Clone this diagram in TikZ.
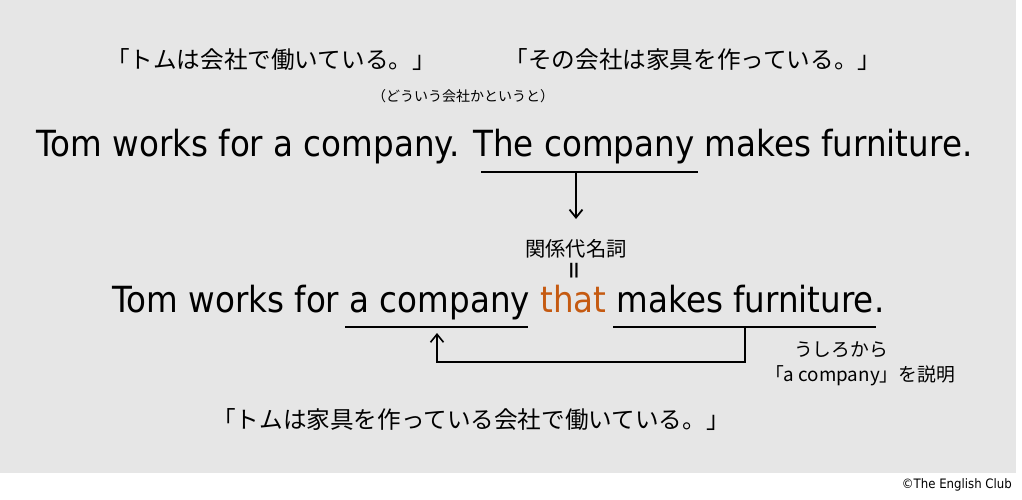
\documentclass[tikz,border=0pt]{standalone}
\usepackage{fontspec}
\setmainfont{DejaVu Sans}
\newfontfamily\en[FakeStretch=0.904]{DejaVu Sans}
\newfontfamily\jp{Noto Sans CJK JP}
\usetikzlibrary{arrows.meta}
\definecolor{bg}{RGB}{230,230,230}
\definecolor{thatc}{RGB}{197,90,17}
\begin{document}
\begin{tikzpicture}[x=1pt,y=-1pt,
  every node/.style={inner sep=0pt, text=black},
  jpbig/.style={font=\jp\fontsize{23.6}{28}\selectfont},
  jpmid/.style={font=\jp\fontsize{20.3}{24}\selectfont},
  jpexp/.style={font=\jp\fontsize{18.8}{22}\selectfont},
  jpsmall/.style={font=\jp\fontsize{14}{16}\selectfont},
  ensent/.style={font=\en\fontsize{36}{40}\selectfont, anchor=base west},
  uline/.style={draw=black, line width=1.3pt},
  arr/.style={draw=black, line width=1.8pt, -{Straight Barb[length=8pt,width=13pt]}}
]
\useasboundingbox (0,0) rectangle (1022,500);
\fill[bg] (0,0) rectangle (1016,473);

\node[jpbig] (jp1) at (271,60) {「トムは会社で働いている。」};
\node[jpbig] (jp2) at (693,60) {「その会社は家具を作っている。」};
\node[jpsmall] (note) at (463,96) {（どういう会社かというと）};

\node[ensent] (s1) at (36,156) {Tom works for a company. The company makes furniture.};

\coordinate (u1a) at (481,172);
\coordinate (u1b) at (698,172);
\coordinate (u1m) at (576,172);
\coordinate (a1e) at (576,219);
\draw[uline] (u1a) -- (u1b);
\draw[arr] (u1m) -- (a1e);

\node[jpmid] (rel) at (576,249) {関係代名詞};
\node[font=\en\fontsize{26}{28}\selectfont, rotate=90] (eq) at (577,271) {=};

\node[ensent] (s2) at (112,312) {Tom works for a company \textcolor{thatc}{that} makes furniture.};

\coordinate (u2a) at (345,327);
\coordinate (u2b) at (528,327);
\coordinate (u3a) at (613,327);
\coordinate (u3b) at (876,327);
\draw[uline] (u2a) -- (u2b);
\draw[uline] (u3a) -- (u3b);

\coordinate (c1) at (745,327);
\coordinate (k1) at (745,362);
\coordinate (c3) at (437,333);
\draw[arr, line width=1.6pt] (c1) -- (k1) -| (c3);

\node[jpexp] (exp1) at (841,350) {うしろから};
\node[jpexp] (exp2) at (860,376) {「a company」を説明};

\node[jpbig] (jp3) at (471,420) {「トムは家具を作っている会社で働いている。」};

\node[font=\en\fontsize{13}{15}\selectfont, anchor=east] (copy) at (1012,485) {©The English Club};
\end{tikzpicture}
\end{document}
